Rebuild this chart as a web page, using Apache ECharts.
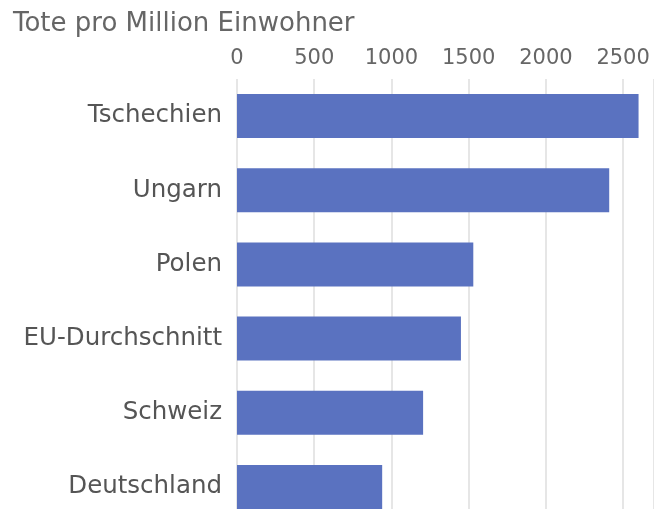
<!DOCTYPE html>
<html><head><meta charset="utf-8">
<script src="https://cdn.jsdelivr.net/npm/echarts@6/dist/echarts.min.js"></script>
<style>html,body{margin:0;padding:0;background:#fff}#c{width:654px;height:509px}</style>
</head><body><div id="c"></div>
<script>
const title = "Tote pro Million Einwohner";
const categories = ["Tschechien", "Ungarn", "Polen", "EU-Durchschnitt", "Schweiz", "Deutschland"];
const values = [2600, 2410, 1530, 1450, 1205, 940];
const tickInterval = 500;

const chart = echarts.init(document.getElementById('c'), null, {renderer: 'canvas'});
chart.setOption({
  animation: false,
  title: {
    text: title, left: 8, top: 6,
    textStyle: {fontFamily: 'DejaVu Sans', fontSize: 26, fontWeight: 'normal', color: '#666'}
  },
  grid: {left: 237, top: 79, right: 0, height: 445, containLabel: false, outerBoundsMode: 'none'},
  xAxis: {
    type: 'value', position: 'top', min: 0, max: 2700, interval: tickInterval,
    axisLine: {show: false}, axisTick: {show: false},
    axisLabel: {showMaxLabel: false, margin: 10, fontFamily: 'DejaVu Sans', fontSize: 21, color: '#666',
      formatter: v => String(v)},
    splitLine: {lineStyle: {color: '#e6e6e6', width: 2}}
  },
  yAxis: {
    type: 'category', inverse: true, data: categories,
    axisLine: {show: false}, axisTick: {show: false},
    axisLabel: {margin: 15, fontFamily: 'DejaVu Sans', fontSize: 24.5, color: '#555'}
  },
  series: [{
    type: 'bar', data: values, barWidth: 44,
    itemStyle: {color: '#5a72c0'}
  }]
});
</script></body></html>
